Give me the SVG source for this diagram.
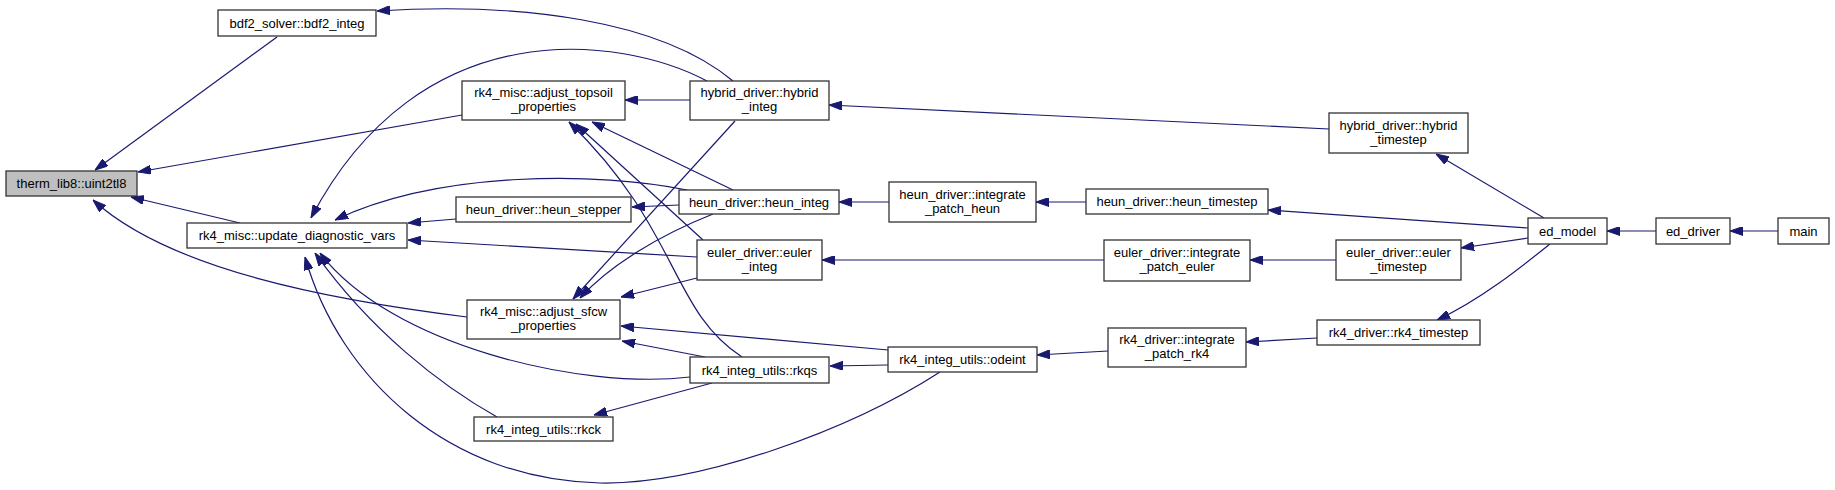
<svg xmlns="http://www.w3.org/2000/svg" width="1835" height="490" viewBox="0 0 1835 490">
<style>
.n rect{fill:#ffffff;stroke:#333333;stroke-width:1.3}
.n.hl rect{fill:#bfbfbf}
.n text{font-family:"Liberation Sans",Arial,sans-serif;font-size:13px;fill:#000;text-anchor:middle}
.e path{fill:none;stroke:#191970;stroke-width:1.2;marker-end:url(#ah)}
</style>
<defs>
<marker id="ah" markerUnits="userSpaceOnUse" viewBox="0 0 13 9" refX="13" refY="4.5" markerWidth="13" markerHeight="9" orient="auto">
<path d="M0,0 L13,4.5 L0,9 z" fill="#191970" stroke="#191970" stroke-width="1"/>
</marker>
</defs>
<rect width="1835" height="490" fill="#ffffff"/>
<g id="edges" class="e">
<path d="M277,37 L95,170"/>
<path d="M462,115 L138,172"/>
<path d="M240,223 L131,197"/>
<path d="M467,317 C330,300 170,270 93,200"/>
<path d="M733,81 C660,20 520,2 377,11"/>
<path d="M707,81 C620,35 420,10 311,218"/>
<path d="M690,100 L625,100"/>
<path d="M735,121 L573,299"/>
<path d="M733,190 L592,122"/>
<path d="M703,240 L576,124"/>
<path d="M742,357 C670,310 680,230 569,122"/>
<path d="M679,205 L632,207"/>
<path d="M687,190 C600,172 440,170 335,220"/>
<path d="M456,219 L408,223"/>
<path d="M697,257 L408,240"/>
<path d="M690,377 C580,390 390,345 320,253"/>
<path d="M713,214 C660,235 610,265 580,298"/>
<path d="M705,357 L622,341"/>
<path d="M888,350 L621,326"/>
<path d="M697,278 L621,297"/>
<path d="M712,383 L594,415"/>
<path d="M888,365 L830,366"/>
<path d="M497,417 C440,385 370,330 315,253"/>
<path d="M940,372 C850,430 700,485 600,483 C450,480 340,380 305,257"/>
<path d="M889,202 L839,202"/>
<path d="M1104,260 L822,260"/>
<path d="M1108,351 L1037,355"/>
<path d="M1086,202 L1036,202"/>
<path d="M1336,260 L1250,260"/>
<path d="M1317,338 L1246,342"/>
<path d="M1329,129 L829,105"/>
<path d="M1544,218 L1436,154"/>
<path d="M1528,228 L1268,210"/>
<path d="M1528,238 L1461,248"/>
<path d="M1550,244 C1520,268 1480,300 1437,320"/>
<path d="M1656,231 L1607,231"/>
<path d="M1778,231 L1730,231"/>
</g>
<g id="uint2tl8" class="n hl"><rect x="6" y="171" width="131" height="25"/><text x="71.5" y="188">therm_lib8::uint2tl8</text></g>
<g id="bdf2_integ" class="n"><rect x="218" y="10" width="158" height="26"/><text x="297" y="27.5">bdf2_solver::bdf2_integ</text></g>
<g id="update_diagnostic_vars" class="n"><rect x="187" y="223" width="220" height="25"/><text x="297" y="240">rk4_misc::update_diagnostic_vars</text></g>
<g id="adjust_topsoil_properties" class="n"><rect x="462" y="81" width="163" height="39"/><text x="543.5" y="97">rk4_misc::adjust_topsoil</text><text x="543.5" y="111">_properties</text></g>
<g id="heun_stepper" class="n"><rect x="456" y="197" width="175" height="25"/><text x="543.5" y="214">heun_driver::heun_stepper</text></g>
<g id="adjust_sfcw_properties" class="n"><rect x="467" y="300" width="153" height="39"/><text x="543.5" y="316">rk4_misc::adjust_sfcw</text><text x="543.5" y="330">_properties</text></g>
<g id="rkck" class="n"><rect x="474" y="417" width="139" height="24"/><text x="543.5" y="433.5">rk4_integ_utils::rkck</text></g>
<g id="hybrid_integ" class="n"><rect x="690" y="81" width="139" height="39"/><text x="759.5" y="97">hybrid_driver::hybrid</text><text x="759.5" y="111">_integ</text></g>
<g id="heun_integ" class="n"><rect x="679" y="190" width="160" height="24"/><text x="759" y="206.5">heun_driver::heun_integ</text></g>
<g id="euler_integ" class="n"><rect x="697" y="240" width="125" height="40"/><text x="759.5" y="256.5">euler_driver::euler</text><text x="759.5" y="270.5">_integ</text></g>
<g id="rkqs" class="n"><rect x="690" y="357" width="139" height="26"/><text x="759.5" y="374.5">rk4_integ_utils::rkqs</text></g>
<g id="integrate_patch_heun" class="n"><rect x="889" y="182" width="147" height="40"/><text x="962.5" y="198.5">heun_driver::integrate</text><text x="962.5" y="212.5">_patch_heun</text></g>
<g id="odeint" class="n"><rect x="888" y="347" width="149" height="25"/><text x="962.5" y="364">rk4_integ_utils::odeint</text></g>
<g id="heun_timestep" class="n"><rect x="1086" y="189" width="182" height="25"/><text x="1177" y="206">heun_driver::heun_timestep</text></g>
<g id="integrate_patch_euler" class="n"><rect x="1104" y="240" width="146" height="41"/><text x="1177" y="256.5">euler_driver::integrate</text><text x="1177" y="270.5">_patch_euler</text></g>
<g id="integrate_patch_rk4" class="n"><rect x="1108" y="328" width="138" height="39"/><text x="1177" y="344">rk4_driver::integrate</text><text x="1177" y="358">_patch_rk4</text></g>
<g id="hybrid_timestep" class="n"><rect x="1329" y="113" width="139" height="40"/><text x="1398.5" y="129.5">hybrid_driver::hybrid</text><text x="1398.5" y="143.5">_timestep</text></g>
<g id="euler_timestep" class="n"><rect x="1336" y="240" width="125" height="40"/><text x="1398.5" y="256.5">euler_driver::euler</text><text x="1398.5" y="270.5">_timestep</text></g>
<g id="rk4_timestep" class="n"><rect x="1317" y="320" width="163" height="25"/><text x="1398.5" y="337">rk4_driver::rk4_timestep</text></g>
<g id="ed_model" class="n"><rect x="1528" y="218" width="79" height="26"/><text x="1567.5" y="235.5">ed_model</text></g>
<g id="ed_driver" class="n"><rect x="1656" y="218" width="74" height="26"/><text x="1693" y="235.5">ed_driver</text></g>
<g id="main" class="n"><rect x="1778" y="218" width="51" height="26"/><text x="1803.5" y="235.5">main</text></g>
</svg>
